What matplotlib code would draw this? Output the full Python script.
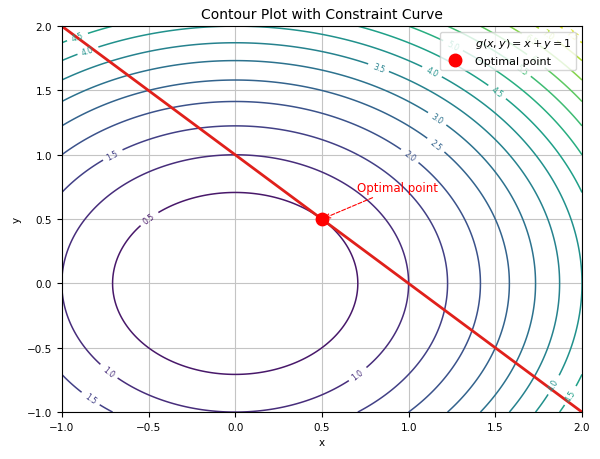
import matplotlib
import matplotlib.pyplot as plt
import numpy as np
from matplotlib.lines import Line2D

plt.switch_backend("agg")

# data
x_range = [-1.0, 2.0]
y_range = [-1.0, 2.0]
levels = [0.0, 0.5, 1.0, 1.5, 2.0, 2.5, 3.0, 3.5, 4.0, 4.5, 5.0, 5.5, 6.0, 6.5, 7.0, 7.5, 8.0]
constraint_x = [-1.0, 2.0]
constraint_y = [2.0, -1.0]
opt_point = [0.5, 0.5]
opt_text_pos = [0.7, 0.72]


def f(x, y):
    return x ** 2 + y ** 2


def main():
    fig = plt.figure(figsize=(6.0, 4.6), dpi=100)
    ax = fig.add_axes([0.103, 0.102, 0.867, 0.839])

    xs = np.linspace(x_range[0], x_range[1], 400)
    ys = np.linspace(y_range[0], y_range[1], 400)
    X, Y = np.meshgrid(xs, ys)
    Z = f(X, Y)

    cs = ax.contour(X, Y, Z, levels=levels, cmap="viridis", linewidths=1.1)
    ax.clabel(cs, inline=True, fontsize=5.5, fmt="%1.1f")

    ax.plot(constraint_x, constraint_y, color="#e0201b", linewidth=2.0)
    ax.scatter([opt_point[0]], [opt_point[1]], color="red", s=80, zorder=5)

    ax.annotate(
        "Optimal point",
        xy=(opt_point[0], opt_point[1]),
        xytext=(opt_text_pos[0], opt_text_pos[1]),
        color="red",
        fontsize=8.5,
        arrowprops=dict(arrowstyle="->", color="red", linestyle="--", linewidth=0.8),
    )

    handles = [
        Line2D([], [], color="none"),
        Line2D([], [], color="red", marker="o", linestyle="none", markersize=9),
    ]
    labels = [r"$g(x, y) = x + y = 1$", "Optimal point"]
    ax.legend(handles, labels, loc="upper right", fontsize=8, framealpha=0.8)

    ax.set_xlim(x_range)
    ax.set_ylim(y_range)
    ax.set_xticks([-1.0, -0.5, 0.0, 0.5, 1.0, 1.5, 2.0])
    ax.set_yticks([-1.0, -0.5, 0.0, 0.5, 1.0, 1.5, 2.0])
    ax.tick_params(labelsize=7.5)
    ax.set_xlabel("x", fontsize=7.5)
    ax.set_ylabel("y", fontsize=7.5)
    ax.set_title("Contour Plot with Constraint Curve", fontsize=10)
    ax.grid(True, color="#c4c4c4", linewidth=0.8)

    fig.savefig("out.png", dpi=100, facecolor="white")
    plt.close(fig)


if __name__ == "__main__":
    main()
